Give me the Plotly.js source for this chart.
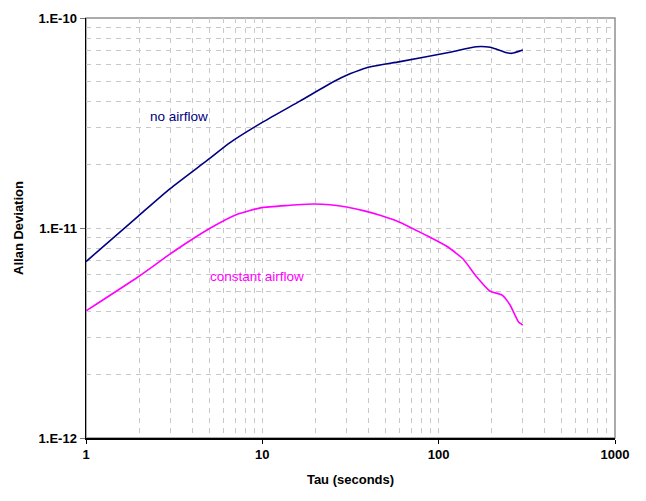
<!DOCTYPE html>
<html>
<head>
<meta charset="utf-8">
<script src="https://cdn.plot.ly/plotly-3.0.1.min.js"></script>
<style>html,body{margin:0;padding:0;background:#fff;}#chart{width:646px;height:501px;}</style>
</head>
<body>
<div id="chart"></div>
<script>
// Data
const tauNoAir = [1, 1.98, 3.0, 4.94, 6.56, 10.1, 16.4, 25.3, 31.4, 39.1, 60.4, 116, 164, 196, 240, 260, 300];
const devNoAir = [6.92e-12, 1.14e-11, 1.54e-11, 2.12e-11, 2.55e-11, 3.2e-11, 4.03e-11, 4.97e-11, 5.42e-11, 5.8e-11, 6.2e-11, 6.87e-11, 7.3e-11, 7.25e-11, 6.85e-11, 6.79e-11, 7.04e-11];
const tauConst = [1, 1.98, 3.13, 5.05, 7.16, 9.9, 14, 19.5, 24.2, 30.1, 37.4, 46.5, 57.9, 72, 89.4, 113.5, 138, 164, 196, 228, 254, 283, 300];
const devConst = [4.03e-12, 5.86e-12, 7.71e-12, 9.97e-12, 1.16e-11, 1.25e-11, 1.28e-11, 1.30e-11, 1.29e-11, 1.26e-11, 1.21e-11, 1.15e-11, 1.08e-11, 9.9e-12, 9.03e-12, 8.1e-12, 7.1e-12, 5.86e-12, 5.0e-12, 4.8e-12, 4.3e-12, 3.58e-12, 3.45e-12];
const xTickVals = [1, 10, 100, 1000];
const xTickText = ["1", "10", "100", "1000"];
const yTickVals = [1e-12, 1e-11, 1e-10];
const yTickText = ["1.E-12", "1.E-11", "1.E-10"];
const seriesNames = ["no airflow", "constant airflow"];

function gridVals(lo, hi) {
  const v = [];
  for (let e = lo; e < hi; e++) for (let m = 1; m <= 9; m++) v.push(m * Math.pow(10, e));
  v.push(Math.pow(10, hi));
  return v;
}

const font = {family: "Liberation Sans, Arial, sans-serif", color: "#000"};
const gridStyle = {showgrid: true, gridcolor: "#c8c8c8", griddash: "5px,5px", gridwidth: 1, ticks: ""};

const traces = [
  {x: tauNoAir, y: devNoAir, type: "scatter", mode: "lines", name: seriesNames[0],
   line: {color: "#000080", width: 1.6, shape: "spline", smoothing: 0.6}},
  {x: tauConst, y: devConst, type: "scatter", mode: "lines", name: seriesNames[1],
   line: {color: "#ff00ff", width: 1.6, shape: "spline", smoothing: 0.5}}
];

const layout = {
  width: 646, height: 501,
  margin: {l: 86, r: 31, t: 18, b: 63},
  paper_bgcolor: "#fff", plot_bgcolor: "#fff",
  showlegend: false,
  font: font,
  xaxis: {
    type: "log", range: [0, 3],
    tickmode: "array", tickvals: xTickVals, ticktext: xTickText,
    tickfont: {family: font.family, size: 13, color: "#000", weight: "bold"},
    ticks: "outside", ticklen: 4, tickcolor: "#000",
    showline: true, linecolor: "#000", linewidth: 1.5,
    showgrid: false, zeroline: false,
    minor: Object.assign({tickmode: "array", tickvals: gridVals(0, 3)}, gridStyle),
    title: {text: "Tau (seconds)", font: {family: font.family, size: 13, color: "#000", weight: "bold"}, standoff: 14}
  },
  yaxis: {
    type: "log", range: [-12, -10],
    tickmode: "array", tickvals: yTickVals, ticktext: yTickText,
    tickfont: {family: font.family, size: 13, color: "#000", weight: "bold"},
    ticks: "outside", ticklen: 5, tickcolor: "#777",
    showline: true, linecolor: "#000", linewidth: 1.5,
    showgrid: false, zeroline: false,
    minor: Object.assign({tickmode: "array", tickvals: gridVals(-12, -10)}, gridStyle),
    title: {text: "Allan Deviation", font: {family: font.family, size: 13, color: "#000", weight: "bold"}, standoff: 12}
  },
  shapes: [
    {type: "rect", xref: "paper", yref: "paper", x0: 0, x1: 1, y0: 0, y1: 1,
     line: {color: "#909090", width: 1.5}, layer: "below"}
  ],
  annotations: [
    {x: Math.log10(2.25), y: Math.log10(3.41e-11), xref: "x", yref: "y", text: seriesNames[0],
     showarrow: false, xanchor: "left", font: {family: font.family, size: 13.5, color: "#000080"}},
    {x: Math.log10(4.92), y: Math.log10(5.9e-12), xref: "x", yref: "y", text: seriesNames[1],
     showarrow: false, xanchor: "left", font: {family: font.family, size: 13.5, color: "#ff00ff"}}
  ]
};

Plotly.newPlot("chart", traces, layout, {staticPlot: true, displayModeBar: false});
</script>
</body>
</html>
